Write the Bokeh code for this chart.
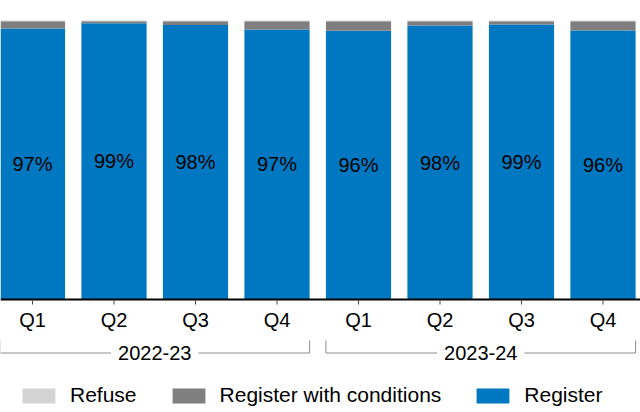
from bokeh.plotting import figure
from bokeh.models import ColumnDataSource, Range1d, Legend, LegendItem
from bokeh.core.properties import value
from bokeh.embed import file_html
from bokeh.resources import INLINE

# ---- data ----
years = ["2022-23", "2023-24"]
quarters = ["Q1", "Q2", "Q3", "Q4", "Q1", "Q2", "Q3", "Q4"]
year_of_bar = [0, 0, 0, 0, 1, 1, 1, 1]
register = [97.1, 99.0, 98.4, 96.8, 96.3, 98.2, 98.6, 96.4]
conditions = [2.6, 0.7, 1.3, 2.9, 3.4, 1.5, 1.1, 3.3]
refuse = [0.3, 0.3, 0.3, 0.3, 0.3, 0.3, 0.3, 0.3]
series = ["register", "conditions", "refuse"]
series_names = ["Register", "Register with conditions", "Refuse"]
colors = ["#0078C1", "#7F7F7F", "#D4D4D4"]

FONT = "Liberation Sans"
FS = "20px"
LFS = "21px"
BAR_W = 0.8

xs = list(range(len(quarters)))
src = ColumnDataSource(dict(
    x=xs, register=register, conditions=conditions, refuse=refuse,
    ylab=[r / 2 for r in register],
    lab=[f"{round(r)}%" for r in register],
    q=quarters,
))

# px mapping: y=0 at px 299, y=100 at px 20  (2.79 px per unit)
PPU = 2.79
y_top = 299 / PPU
y_bot = -(412 - 299) / PPU

p = figure(width=640, height=412, output_backend="svg", toolbar_location=None,
           x_range=Range1d(-32 / 81.5, -32 / 81.5 + 640 / 81.5),
           y_range=Range1d(y_bot, y_top),
           x_axis_location=None, y_axis_location=None,
           min_border=0, min_border_left=0, min_border_right=0,
           min_border_top=0, min_border_bottom=0,
           styles={"position": "absolute", "left": "0px", "top": "0px"})
p.outline_line_color = None
p.grid.visible = False
p.background_fill_color = "white"
p.border_fill_color = "white"

rends = p.vbar_stack(series, x="x", width=BAR_W, color=colors, source=src,
                     line_color=None)

# percentage labels
p.text(x="x", y="ylab", text="lab", source=src, text_align="center",
       text_baseline="middle", text_font=value(FONT), text_font_size=FS,
       text_color="black")

# axis line + ticks
x_left = p.x_range.start
x_right = p.x_range.end
p.segment(x0=[x_left], y0=[0], x1=[x_right], y1=[0], line_color="black", line_width=2)
p.segment(x0=xs, y0=[0] * len(xs), x1=xs, y1=[-5 / PPU] * len(xs),
          line_color="#444444", line_width=1)

# quarter labels
p.text(x="x", y=-20 / PPU, text="q", source=src, text_align="center",
       text_baseline="middle", text_font=value(FONT), text_font_size=FS,
       text_color="black")

# year brackets
yb = -53.5 / PPU
yt = -41 / PPU
gx0, gx1, gmid = [], [], []
for gi in range(len(years)):
    idx = [i for i, g in enumerate(year_of_bar) if g == gi]
    a = min(idx) - BAR_W / 2
    b = max(idx) + BAR_W / 2
    gx0.append(a)
    gx1.append(b)
    gmid.append((a + b) / 2)
p.segment(x0=gx0, y0=[yb] * len(years), x1=gx1, y1=[yb] * len(years),
          line_color="#8C8C8C", line_width=1)
p.segment(x0=gx0, y0=[yb] * len(years), x1=gx0, y1=[yt] * len(years),
          line_color="#8C8C8C", line_width=1)
p.segment(x0=gx1, y0=[yb] * len(years), x1=gx1, y1=[yt] * len(years),
          line_color="#8C8C8C", line_width=1)
p.text(x=gmid, y=[yb] * len(years), text=years, text_align="center",
       text_baseline="middle", text_font=value(FONT), text_font_size=FS,
       text_color="black", background_fill_color="white", padding=7)

# legend
items = [LegendItem(label=series_names[i], renderers=[rends[i]]) for i in (2, 1, 0)]
legend = Legend(items=items, orientation="horizontal", location=(18, 5),
                glyph_width=41, glyph_height=19, label_height=19,
                label_standoff=11, spacing=31, padding=0, margin=0,
                border_line_color=None, background_fill_alpha=0,
                label_text_font=FONT, label_text_font_size=LFS,
                label_text_color="black")
p.add_layout(legend, "center")

open("out.html", "w").write(file_html(p, INLINE))
